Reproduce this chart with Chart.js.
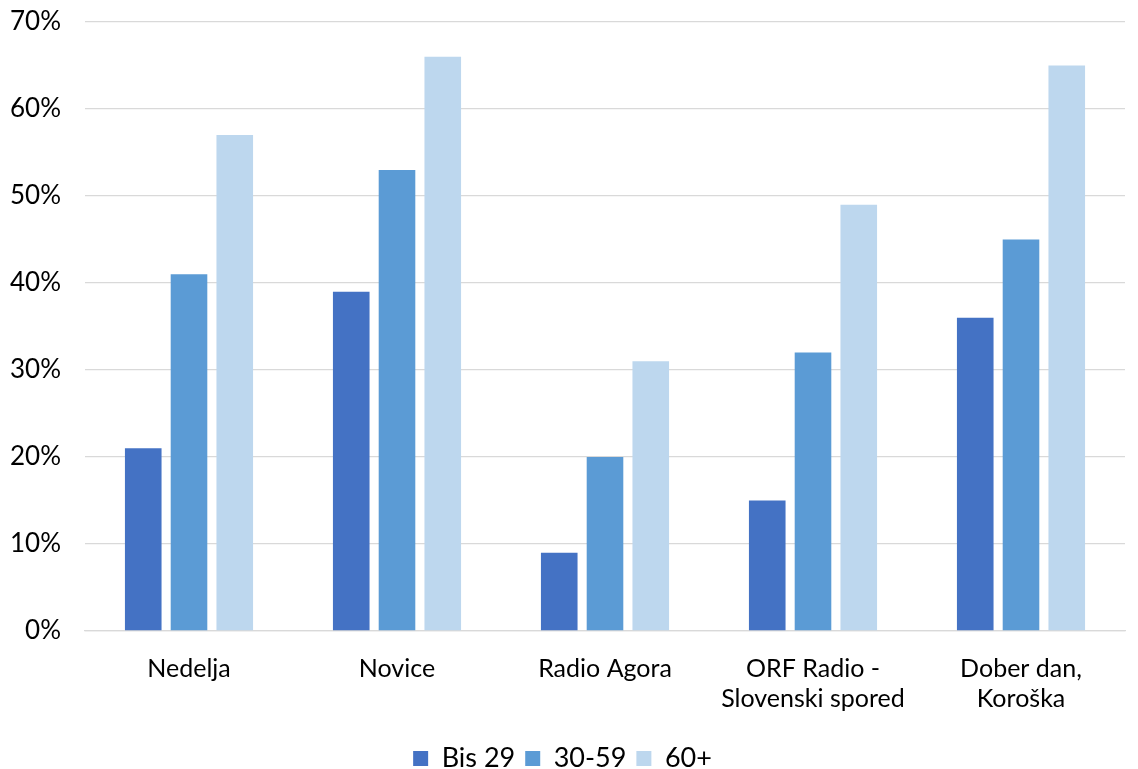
<!DOCTYPE html>
<html>
<head>
<meta charset="utf-8">
<script src="https://cdn.jsdelivr.net/npm/chart.js@4/dist/chart.umd.min.js"></script>
<style>
  html, body { margin: 0; padding: 0; background: #fff; }
  #wrap { width: 1138px; height: 769px; position: relative; }
</style>
</head>
<body>
<div id="wrap"><canvas id="chart"></canvas></div>
<script>
// Chart data
const categories = ["Nedelja", "Novice", "Radio Agora", ["ORF Radio -", "Slovenski spored"], ["Dober dan,", "Koroška"]];
const bis29 = [21, 39, 9, 15, 36];
const mid3059 = [41, 53, 20, 32, 45];
const over60 = [57, 66, 31, 49, 65];
const yTicks = [0, 10, 20, 30, 40, 50, 60, 70];

const font = "Lato, 'Open Sans', sans-serif";

new Chart(document.getElementById("chart"), {
	type: "bar",
	data: {
		labels: categories,
		datasets: [
			{ label: "Bis 29", data: bis29, backgroundColor: "#4472C4" },
			{ label: "30-59", data: mid3059, backgroundColor: "#5B9BD5" },
			{ label: "60+", data: over60, backgroundColor: "#BDD7EE" },
		],
	},
	options: {
		responsive: true,
		maintainAspectRatio: false,
		animation: false,
		datasets: {
			bar: { categoryPercentage: 0.66, barPercentage: 0.8 },
		},
		layout: { padding: { top: 22, right: 13, left: 0, bottom: -13 } },
		plugins: {
			legend: {
				position: "bottom",
				labels: {
					color: "#000",
					font: { family: font, size: 27 },
					boxWidth: 15,
					boxHeight: 15,
					padding: 10,
				},
			},
			tooltip: { enabled: false },
		},
		scales: {
			y: {
				min: 0,
				max: 70,
				afterBuildTicks: axis => {
					axis.ticks = yTicks.map(v => ({ value: v }));
				},
				afterFit: axis => {
					axis.width = 85;
					axis.paddingTop = 0;
					axis.paddingBottom = 0;
				},
				ticks: {
					color: "#000",
					font: { family: font, size: 26 },
					padding: 24,
					callback: v => v + "%",
				},
				grid: { color: "#D9D9D9", lineWidth: 1.3, drawTicks: false },
				border: { display: false },
			},
			x: {
				afterFit: axis => {
					axis.height += 6;
				},
				ticks: {
					color: "#000",
					font: { family: font, size: 25 },
					padding: 15,
					maxRotation: 0,
				},
				grid: { display: false },
				border: { color: "#D9D9D9", width: 1.3 },
			},
		},
	},
});
</script>
</body>
</html>
